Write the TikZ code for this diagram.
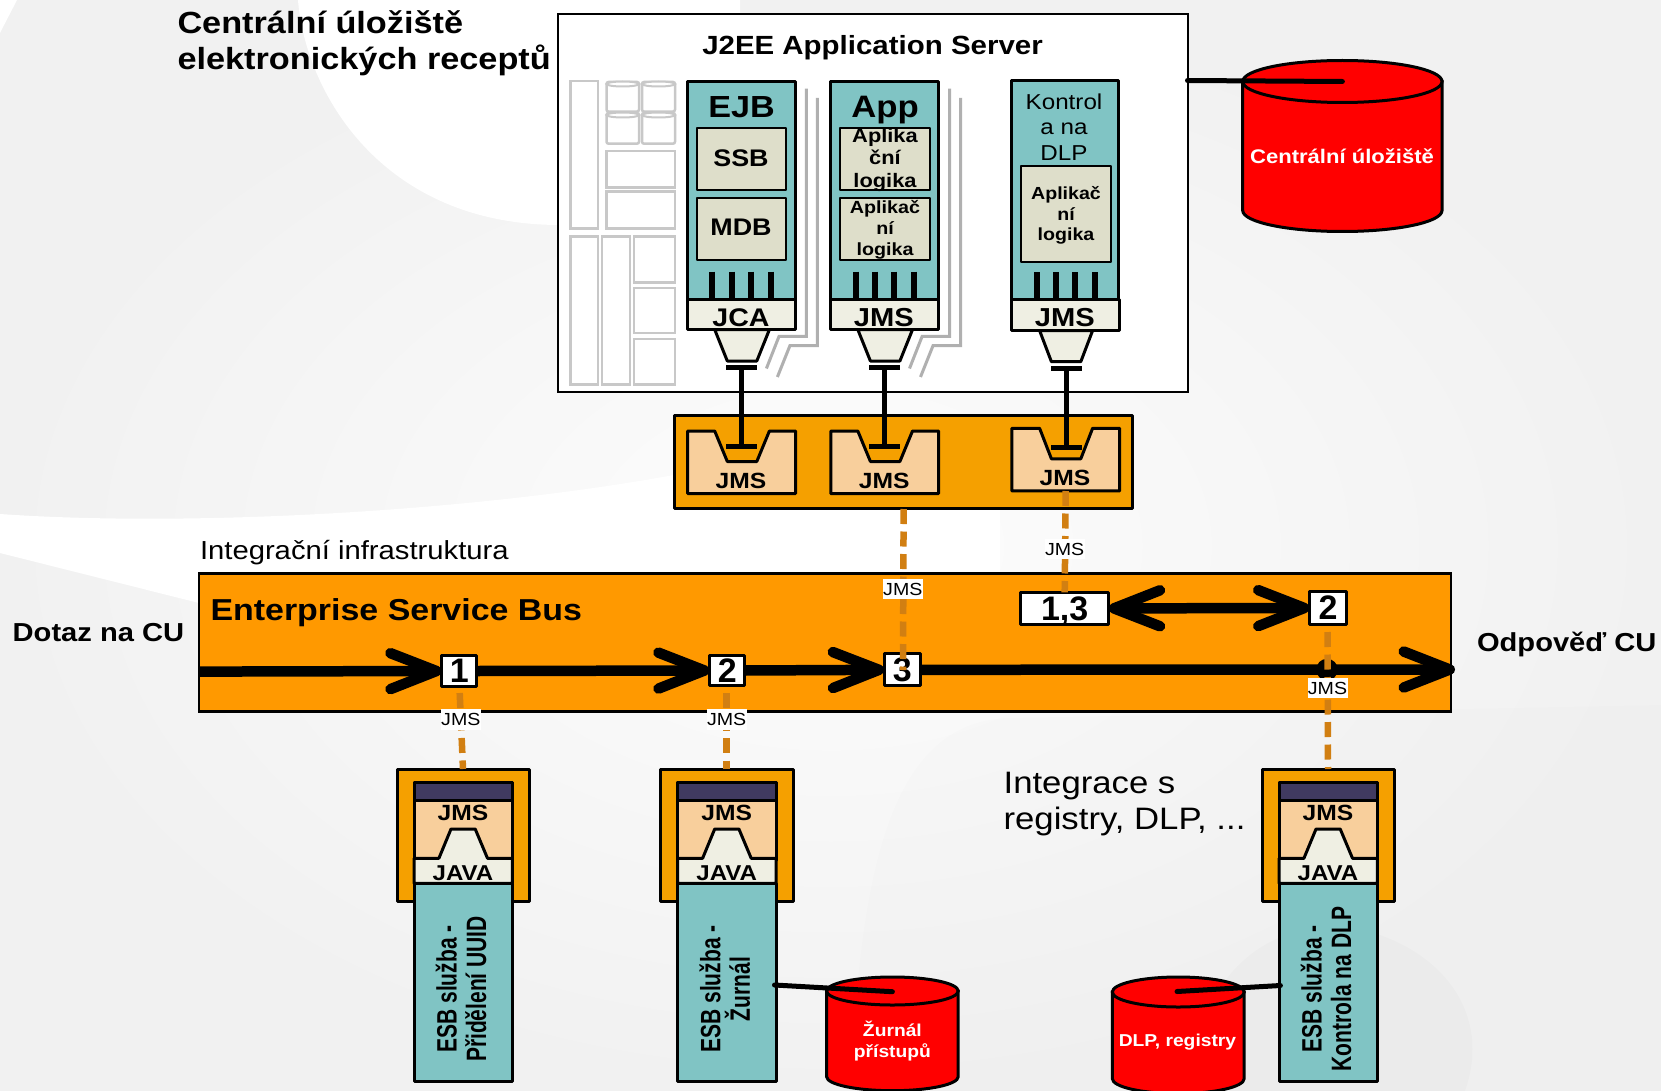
\documentclass[tikz,border=0pt]{standalone}
\usepackage{fontspec}
\usetikzlibrary{arrows.meta,fit}
\setmainfont[FakeStretch=1.12]{Liberation Sans}
\newfontfamily\narrowf[FakeStretch=0.75]{Liberation Sans}
\newfontfamily\plainf{Liberation Sans}
\definecolor{bgin}{HTML}{FDFDFD}
\definecolor{bgout}{HTML}{F1F1F1}
\definecolor{teal}{HTML}{80C4C4}
\definecolor{beige}{HTML}{DEDECA}
\definecolor{ivory}{HTML}{EFEFE3}
\definecolor{peach}{HTML}{F8CF9C}
\definecolor{orangeA}{HTML}{F5A000}
\definecolor{orangeB}{HTML}{FF9900}
\definecolor{dashc}{HTML}{D17F12}
\definecolor{navy}{HTML}{403A60}
\definecolor{ghost}{HTML}{C8C8C8}
\definecolor{shade}{HTML}{B0B0B0}
\newcommand\fs[1]{\fontsize{#1}{#1}\selectfont}
\newcommand\fsl[2]{\fontsize{#1}{#2}\selectfont}
\tikzset{
  x=1pt,y=-1pt,
  bx/.style={draw=black,line width=3pt,inner sep=0pt,outer sep=0pt,line join=round},
  ghostbox/.style={draw=ghost,fill=white,line width=2.5pt,inner sep=0pt,outer sep=0pt},
  poly/.style={draw=black,line width=3pt,line join=round},
  shadowline/.style={draw=shade,line width=3pt},
  pin/.style={draw=black,line width=6pt},
  teebar/.style={fill=black,inner sep=0pt,outer sep=0pt,minimum width=31pt,minimum height=5pt},
  teeline/.style={draw=black,line width=5.5pt},
  dashline/.style={draw=dashc,line width=6.5pt,dash pattern=on 15pt off 7.5pt},
  wire/.style={draw=black,line width=5pt,line cap=round},
  flow/.style={draw=black,line width=10.5pt,-{Straight Barb[length=46pt,width=36pt,round]}},
  flowboth/.style={draw=black,line width=10.5pt,{Straight Barb[length=46pt,width=36pt,round]}-{Straight Barb[length=46pt,width=36pt,round]}},
  lbl/.style={inner sep=0pt,outer sep=0pt,align=center},
  bold/.style={lbl,font=\bfseries},
  jmstag/.style={fill=white,inner sep=0pt,minimum width=40pt,minimum height=20.5pt,font=\fs{17.5}},
  numbox/.style={bx,fill=white,font=\plainf\bfseries\fs{34},text depth=0pt},
  cylw/.style={draw=black,fill=red,line width=3pt},
  wtext/.style={lbl,text=white,font=\bfseries\fsl{17.2}{20.5}},
  esbtext/.style={lbl,rotate=90,font=\narrowf\bfseries\fsl{28}{29.5}},
}
\newcommand\rb[4]{\node[#1,fit={#3#4}] (#2) {};}
\newcommand\pins[5]{\foreach \xx in {#1,#2,#3,#4} \draw[pin] (\xx,#5) -- (\xx,299);}
\newcommand\cyl[6]{% name, x1, x2, cy, ry, ybottom
  \pgfmathsetmacro\cyrx{(#3-#2)/2}
  \pgfmathsetmacro\cycx{(#3+#2)/2}
  \path[cylw] (#2,#4) -- (#2,#6) arc[start angle=180,end angle=360,x radius=\cyrx pt,y radius=#5pt] -- (#3,#4) -- cycle;
  \path[cylw] (\cycx,#4) ellipse[x radius=\cyrx pt,y radius=#5pt];
  \coordinate (#1) at (\cycx,#4);
}
\newcommand\ghostcyl[4]{% x1,x2,y1,y2
  \path[draw=ghost,fill=white,line width=2.5pt,rounded corners=2pt] (#1,#3) rectangle (#2,#4);
  \pgfmathsetmacro\gcx{(#1+#2)/2}
  \pgfmathsetmacro\grx{(#2-#1)/2}
  \path[draw=ghost,line width=2pt,fill=white] (\gcx,#3+2) ellipse[x radius=\grx pt,y radius=2.5pt];
}
\newcommand\esbunit[3]{% dx, prefix, text
  \begin{scope}[shift={(#1,0)}]
    \rb{bx,fill=orangeA}{#2frame}{(397.2,769)}{(529.6,901)}
    \rb{bx,fill=peach}{#2jms}{(414,782.7)}{(512.4,860)}
    \rb{bx,fill=navy}{#2head}{(414,782.7)}{(512.4,800.7)}
    \path[poly,fill=ivory] (414,858.3) -- (438.9,858.3) -- (451,829) -- (475.2,829) -- (487.5,858.3) -- (512.4,858.3) -- (512.4,883.3) -- (414,883.3) -- cycle;
    \rb{bx,fill=teal}{#2svc}{(414,883.3)}{(512.4,1081.7)}
    \node[bold,font=\bfseries\fs{22}] (#2jmst) at (463,813.3) {JMS};
    \node[bold,font=\bfseries\fs{21.5}] (#2java) at (463,873.3) {JAVA};
    \node[esbtext] (#2txt) at (461,989) {#3};
  \end{scope}
}
\begin{document}
\begin{tikzpicture}
\path[use as bounding box] (0,0) rectangle (1661,1091);
\shade[inner color=bgin,outer color=bgout] (0,0) rectangle (1661,1091);
% background swooshes
\fill[white] (298,0) .. controls (305,90) and (380,225) .. (560,225) -- (740,225) -- (740,0) -- cycle;
\fill[white] (0,0) -- (17,0) -- (0,33) -- cycle;
\fill[white] (0,514) .. controls (200,528) and (500,510) .. (700,470) -- (1000,430) -- (1000,573) -- (199,573) -- (199,603) -- (0,553) -- cycle;
\fill[black,opacity=.006] (850,1091) .. controls (860,900) and (880,720) .. (1010,718) -- (1661,705) -- (1661,1091) -- cycle;
\fill[black,opacity=.015] (1190,1091) .. controls (1195,960) and (1290,905) .. (1380,935) .. controls (1450,960) and (1490,1020) .. (1465,1091) -- cycle;
% title
\node[bold,anchor=west,align=left,font=\bfseries\fsl{30.6}{36.5}] (title) at (177.5,43.5) {Centrální úložiště\\elektronických receptů};
% server
\rb{draw=black,fill=white,line width=2pt,inner sep=0pt,outer sep=0pt}{server}{(558,14)}{(1187.5,392)}
\node[bold,font=\bfseries\fs{26.3}] (servert) at (872.5,48) {J2EE Application Server};
% ghost stack
\rb{ghostbox}{g1}{(570.7,81)}{(598,228.5)}
\ghostcyl{606.5}{639}{82}{111.6}
\ghostcyl{642}{675}{82}{111.6}
\ghostcyl{606.5}{639}{113}{143.7}
\ghostcyl{642}{675}{113}{143.7}
\rb{ghostbox}{g2}{(606.5,151)}{(675,187.6)}
\rb{ghostbox}{g3}{(606.5,191.7)}{(675,228.5)}
\rb{ghostbox}{g4}{(570.7,236.6)}{(598,384.7)}
\rb{ghostbox}{g5}{(602,236.6)}{(630,384.7)}
\rb{ghostbox}{g6}{(634,236.6)}{(675,282.3)}
\rb{ghostbox}{g7}{(634,288)}{(675,333)}
\rb{ghostbox}{g8}{(634,339)}{(675,384.7)}
% shadow lines
\foreach \dx in {0,143.1}{
 \draw[shadowline] (806.4+\dx,88.6) -- (806.4+\dx,336.4) -- (779+\dx,336.4) -- (766.4+\dx,368.5);
 \draw[shadowline] (817.4+\dx,98) -- (817.4+\dx,345.5) -- (790+\dx,345.5) -- (777.4+\dx,377);
}
% orange band
\rb{bx,fill=orangeA}{mq}{(674.7,415.8)}{(1132.6,508.8)}
% columns
\rb{bx,fill=teal}{ejb}{(687.7,82)}{(795.5,299)}
\rb{bx,fill=beige,line width=2pt}{ssb}{(697,127.8)}{(786,189.7)}
\rb{bx,fill=beige,line width=2pt}{mdb}{(697,197.8)}{(786,259.6)}
\pins{712}{731.5}{751}{770.6}{271.5}
\path[poly,fill=ivory] (714.7,329.6) -- (727.3,361) -- (756.8,361) -- (769.4,329.6) -- cycle;
\rb{bx,fill=ivory}{jca}{(687.7,299)}{(795.5,329.6)}
\node[bold,font=\bfseries\fs{30.5}] (ejbt) at (741.6,107.5) {EJB};
\node[bold,font=\bfseries\fs{24}] (ssbt) at (741,158.5) {SSB};
\node[bold,font=\bfseries\fs{24}] (mdbt) at (741,227.5) {MDB};
\node[bold,font=\bfseries\fs{25.5}] (jcat) at (741,317.5) {JCA};
%
\rb{bx,fill=teal}{app}{(830.8,82)}{(938.6,299)}
\rb{bx,fill=beige,line width=2pt}{apa}{(839.7,127.8)}{(929.7,189.7)}
\rb{bx,fill=beige,line width=2pt}{apb}{(839.7,197.8)}{(929.7,259.6)}
\pins{855.7}{875}{894.4}{913.7}{271.5}
\path[poly,fill=ivory] (857.8,329.6) -- (870.4,361) -- (899.9,361) -- (912.5,329.6) -- cycle;
\rb{bx,fill=ivory}{jmsb}{(830.8,299)}{(938.6,329.6)}
\node[bold,font=\bfseries\fs{31}] (appt) at (885,110.5) {App};
\node[bold,font=\bfseries\fsl{19.5}{22.8}] (apat) at (885,160) {Aplika\\ční\\logika};
\node[bold,font=\bfseries\fsl{17.6}{20.8}] (apbt) at (885,229.5) {Aplikač\\ní\\logika};
\node[bold,font=\bfseries\fs{26}] (jmsbt) at (883.8,317.5) {JMS};
%
\rb{bx,fill=teal}{kon}{(1011,81)}{(1118.7,299)}
\rb{bx,fill=beige,line width=2pt}{kona}{(1020.6,166.3)}{(1110.7,261.7)}
\pins{1036.6}{1056}{1075.4}{1094.7}{272}
\path[poly,fill=ivory] (1039.6,330.6) -- (1051.4,361.7) -- (1080.8,361.7) -- (1092.6,330.6) -- cycle;
\rb{bx,fill=ivory}{jmsc}{(1011.8,299)}{(1119.6,330.6)}
\node[lbl,font=\fsl{21.6}{25.3}] (kont) at (1064,127) {Kontrol\\a na\\DLP};
\node[bold,font=\bfseries\fsl{17.5}{20.4}] (konat) at (1066,215.5) {Aplikač\\ní\\logika};
\node[bold,font=\bfseries\fs{26}] (jmsct) at (1064.8,317.5) {JMS};
% sockets
\foreach \dx in {0,143.1}{
 \path[poly,fill=peach] (687.7+\dx,431) -- (714.7+\dx,431) -- (727.3+\dx,461.5) -- (756.8+\dx,461.5) -- (769.4+\dx,431) -- (795.5+\dx,431) -- (795.5+\dx,493.6) -- (687.7+\dx,493.6) -- cycle;
}
\path[poly,fill=peach] (1011.8,428.3) -- (1039.6,428.3) -- (1051.4,458.8) -- (1080.8,458.8) -- (1092.6,428.3) -- (1119.6,428.3) -- (1119.6,490.9) -- (1011.8,490.9) -- cycle;
\node[bold,font=\bfseries\fs{22}] (sat) at (741,481) {JMS};
\node[bold,font=\bfseries\fs{22}] (sbt) at (884.3,481) {JMS};
\node[bold,font=\bfseries\fs{22}] (sct) at (1065,478) {JMS};
% tee connectors
\node[teebar] (tat) at (741.6,367.8) {};
\node[teebar] (tab) at (741.6,446.2) {};
\node[teebar] (tbt) at (884.7,367.8) {};
\node[teebar] (tbb) at (884.7,446.2) {};
\node[teebar] (tct) at (1066.5,368.5) {};
\node[teebar] (tcb) at (1066.5,447) {};
\draw[teeline] (tat.center) -- (tab.center);
\draw[teeline] (tbt.center) -- (tbb.center);
\draw[teeline] (tct.center) -- (tcb.center);
% central store
\cyl{cylC}{1242.7}{1442}{81.5}{21}{210.5}
\node[lbl,text=white,font=\bfseries\fs{19.7}] (cylCt) at (1342,156) {Centrální úložiště};
\coordinate (srvOut) at (1187.5,80.5);
\draw[wire] (srvOut) -- (cylC);
% labels
\node[lbl,anchor=west,font=\fs{26.1}] (infra) at (200,553) {Integrační infrastruktura};
\node[bold,anchor=west,font=\bfseries\fs{26}] (dotaz) at (12.7,632.4) {Dotaz na CU};
\node[bold,anchor=west,font=\bfseries\fs{26}] (odp) at (1477,644) {Odpověď CU};
\node[lbl,anchor=west,align=left,font=\fsl{31}{36}] (integ) at (1003.6,804.5) {Integrace s\\registry, DLP, ...};
% ESB
\rb{draw=black,fill=orangeB,line width=2.5pt,inner sep=0pt,outer sep=0pt}{esb}{(199,573.5)}{(1451,711.5)}
\node[bold,anchor=west,font=\bfseries\fs{30.3}] (esbt) at (210.5,613) {Enterprise Service Bus};
\coordinate (flowIn) at (199,671.6);
\coordinate (flowOut) at (1455,669.5);
\node[numbox,minimum width=35pt,minimum height=30.5pt] (n1) at (459.2,671) {1};
\node[numbox,minimum width=35pt,minimum height=30pt] (n2) at (727.2,670.5) {2};
\node[numbox,minimum width=36pt,minimum height=32pt] (n3) at (902.2,669.8) {3};
\node[numbox,minimum width=88pt,minimum height=32pt] (n13) at (1064.7,608.4) {1,3};
\node[numbox,minimum width=37pt,minimum height=33pt] (n2b) at (1328,608) {2};
\fill[black] (1327,669.6) circle[radius=10.8];
\draw[flow] (flowIn) -- (n1.west);
\draw[flow] (n1.east) -- (n2.west);
\draw[flow] (n2.east) -- (n3.west);
\draw[flow] (n3.east) -- (flowOut);
\draw[flowboth] (n13.east) -- (n2b.west);
% services
\esbunit{0}{ua}{ESB služba -\\Přidělení UUID}
\esbunit{263.7}{ub}{ESB služba -\\Žurnál}
\esbunit{865}{uc}{ESB služba -\\Kontrola na DLP}
% stores
\cyl{cylZ}{826.6}{958.2}{991}{14}{1076.7}
\node[wtext] (cylZt) at (892.4,1041) {Žurnál\\přístupů};
\cyl{cylD}{1112.3}{1244.2}{992}{15}{1078.6}
\node[wtext] (cylDt) at (1177.5,1042) {DLP, registry};
\coordinate (zw) at (774.5,985);
\coordinate (zc) at (892.4,991.7);
\coordinate (dw) at (1280.4,985.5);
\coordinate (dc) at (1177,991.5);
\draw[wire] (zw) -- (zc);
\draw[wire] (dw) -- (dc);
% JMS dashed
\coordinate (d1) at (903.6,509);
\coordinate (d1e) at (903,670);
\draw[dashline] (d1) -- (d1e);
\node[jmstag] (j1) at (902.8,589) {JMS};
\coordinate (d2) at (1065.7,491);
\draw[dashline] (d2) -- (n13.north);
\node[jmstag] (j2) at (1064.7,549) {JMS};
\coordinate (d3) at (1327.5,632);
\coordinate (d3e) at (1328,769);
\draw[dashline] (d3) -- (d3e);
\node[jmstag] (j3) at (1327.5,688) {JMS};
\coordinate (d4) at (459.7,693);
\coordinate (d4e) at (463,769);
\draw[dashline] (d4) -- (d4e);
\node[jmstag] (j4) at (460.8,719.5) {JMS};
\coordinate (d5) at (726.7,693);
\coordinate (d5e) at (726.7,769);
\draw[dashline] (d5) -- (d5e);
\node[jmstag] (j5) at (726.7,719.5) {JMS};
\end{tikzpicture}
\end{document}
